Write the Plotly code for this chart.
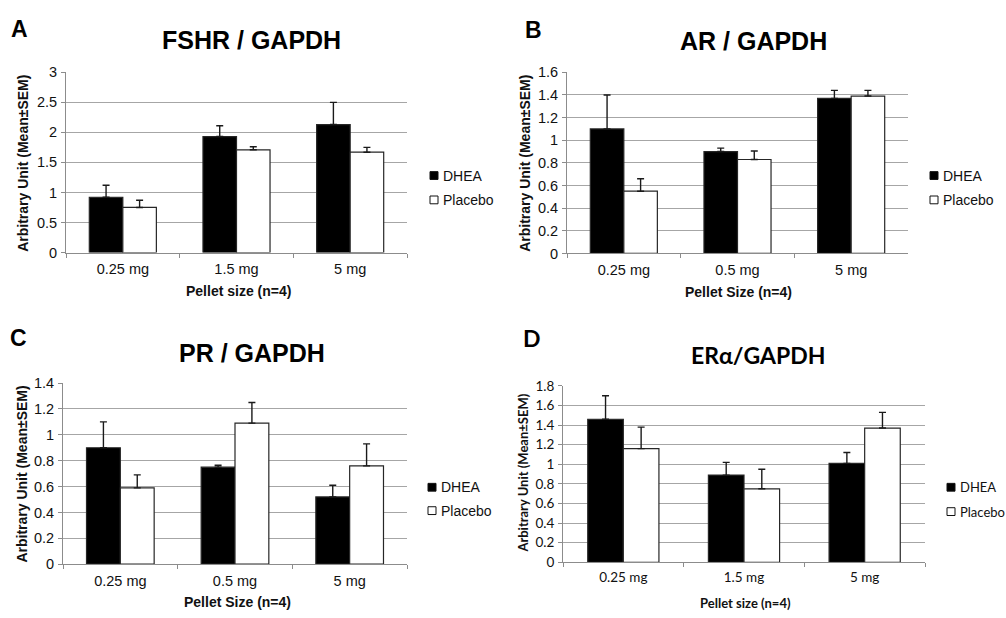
import plotly.graph_objects as go

W, H = 1006, 618

# ---------------- data ----------------
cats_A = ["0.25 mg", "1.5 mg", "5 mg"]
fshr_dhea = [0.92, 1.93, 2.13]
fshr_dhea_sem = [0.20, 0.18, 0.37]
fshr_placebo = [0.75, 1.71, 1.67]
fshr_placebo_sem = [0.12, 0.05, 0.08]

cats_B = ["0.25 mg", "0.5 mg", "5 mg"]
ar_dhea = [1.10, 0.90, 1.37]
ar_dhea_sem = [0.30, 0.03, 0.07]
ar_placebo = [0.55, 0.83, 1.39]
ar_placebo_sem = [0.11, 0.075, 0.05]

cats_C = ["0.25 mg", "0.5 mg", "5 mg"]
pr_dhea = [0.90, 0.75, 0.52]
pr_dhea_sem = [0.20, 0.015, 0.09]
pr_placebo = [0.59, 1.09, 0.76]
pr_placebo_sem = [0.10, 0.16, 0.17]

cats_D = ["0.25 mg", "1.5 mg", "5 mg"]
era_dhea = [1.46, 0.89, 1.01]
era_dhea_sem = [0.24, 0.13, 0.11]
era_placebo = [1.16, 0.75, 1.37]
era_placebo_sem = [0.22, 0.20, 0.16]

series_names = ["DHEA", "Placebo"]
series_fill = ["#000000", "#ffffff"]
titles = ["FSHR / GAPDH", "AR / GAPDH", "PR / GAPDH", "ERα/GAPDH"]
letters = ["A", "B", "C", "D"]
xtitles = ["Pellet size (n=4)", "Pellet Size (n=4)", "Pellet Size (n=4)", "Pellet size (n=4)"]
ytitle = "Arbitrary Unit (Mean±SEM)"
y_max = [3, 1.6, 1.4, 1.8]
y_dtick = [0.5, 0.2, 0.2, 0.2]

# ---------------- layout geometry (pixels) ----------------
ARIAL = "Liberation Sans, Arial, sans-serif"
CALIBRI = "Lato, Open Sans, sans-serif"

panels = [
    dict(cats=cats_A, d=fshr_dhea, de=fshr_dhea_sem, p=fshr_placebo, pe=fshr_placebo_sem,
         x0=66, x1=407, y0=66, y1=251, font=ARIAL,
         title_xy=(252, 33), letter_xy=(19, 22), ytitle_xy=(23, 160), xtitle_xy=(238, 291),
         leg_sq=430, leg_y=(172, 197), title_size=25, tick_x=14.5, tick_y=14.5,
         ytitle_size=14, xtitle_size=14, leg_size=14),
    dict(cats=cats_B, d=ar_dhea, de=ar_dhea_sem, p=ar_placebo, pe=ar_placebo_sem,
         x0=567, x1=908, y0=66, y1=252, font=ARIAL,
         title_xy=(753, 34), letter_xy=(533, 23), ytitle_xy=(525, 160), xtitle_xy=(738, 292),
         leg_sq=930, leg_y=(172, 197), title_size=25, tick_x=14.5, tick_y=14.5,
         ytitle_size=14, xtitle_size=14, leg_size=14),
    dict(cats=cats_C, d=pr_dhea, de=pr_dhea_sem, p=pr_placebo, pe=pr_placebo_sem,
         x0=63, x1=407, y0=385, y1=571, font=ARIAL,
         title_xy=(252, 354), letter_xy=(18, 339), ytitle_xy=(22, 479), xtitle_xy=(237, 610),
         leg_sq=428, leg_y=(492, 516), title_size=25, tick_x=14.5, tick_y=14.5,
         ytitle_size=14, xtitle_size=14, leg_size=14),
    dict(cats=cats_D, d=era_dhea, de=era_dhea_sem, p=era_placebo, pe=era_placebo_sem,
         x0=563, x1=925, y0=388, y1=569, font=CALIBRI,
         title_xy=(758, 356), letter_xy=(532, 339), ytitle_xy=(523, 478), xtitle_xy=(745, 611),
         leg_sq=947, leg_y=(492, 517), title_size=23, tick_x=13.5, tick_y=13.5,
         ytitle_size=13, xtitle_size=13, leg_size=13),
]


def px(x):
    return x / W


def py(y):
    return 1 - y / H


fig = go.Figure()
annotations = []
shapes = []
GRID = "#a6a6a6"
AXC = "#8c8c8c"
OUTLINE = "#262626"

for i, pn in enumerate(panels):
    k = i + 1
    xa = "x" if k == 1 else f"x{k}"
    ya = "y" if k == 1 else f"y{k}"
    fnt = pn["font"]
    for name, vals, errs, fill in [
        (series_names[0], pn["d"], pn["de"], series_fill[0]),
        (series_names[1], pn["p"], pn["pe"], series_fill[1]),
    ]:
        fig.add_trace(go.Bar(
            x=pn["cats"], y=vals, name=name, xaxis=xa, yaxis=ya, showlegend=False,
            marker=dict(color=fill, line=dict(color=OUTLINE, width=1.2)),
            error_y=dict(type="data", symmetric=False, array=errs,
                         arrayminus=[0] * len(errs), color="#1a1a1a",
                         thickness=1.4, width=3.5),
        ))
    axis_x = dict(
        domain=[px(pn["x0"]), px(pn["x1"])], anchor=ya,
        showline=True, linecolor=AXC, linewidth=1,
        ticks="outside", tickson="boundaries", ticklen=4, tickcolor=AXC,
        showgrid=False, tickfont=dict(family=fnt, size=pn["tick_x"], color="#111"),
        ticklabelstandoff=3,
    )
    axis_y = dict(
        domain=[py(pn["y1"]), py(pn["y0"])], anchor=xa,
        range=[0, y_max[i]], dtick=y_dtick[i], tick0=0,
        showline=True, linecolor=AXC, linewidth=1,
        ticks="outside", ticklen=4, tickcolor=AXC,
        showgrid=True, gridcolor=GRID, gridwidth=1, zeroline=False,
        tickfont=dict(family=fnt, size=pn["tick_y"], color="#111"),
        ticklabelstandoff=1,
    )
    fig.update_layout(**{("xaxis" if k == 1 else f"xaxis{k}"): axis_x,
                         ("yaxis" if k == 1 else f"yaxis{k}"): axis_y})

    # legend keys (square + label)
    sq = pn["leg_sq"]
    for j, name in enumerate(series_names):
        cy = pn["leg_y"][j]
        shapes.append(dict(type="rect", xref="paper", yref="paper",
                           x0=px(sq), x1=px(sq + 8), y0=py(cy + 4), y1=py(cy - 4),
                           fillcolor=series_fill[j], line=dict(color="#111", width=1)))
        annotations.append(dict(text=name, x=px(sq + 11), y=py(cy), xref="paper", yref="paper",
                                showarrow=False, xanchor="left", yanchor="middle",
                                font=dict(family=fnt, size=pn["leg_size"], color="#111")))

    # panel title, letter, axis titles
    tx, ty = pn["title_xy"]
    annotations.append(dict(text=f"<b>{titles[i]}</b>", x=px(tx), y=py(ty), xref="paper", yref="paper",
                            showarrow=False, xanchor="center", yanchor="middle",
                            font=dict(family=fnt, size=pn["title_size"], color="#000")))
    lx, ly = pn["letter_xy"]
    annotations.append(dict(text=f"<b>{letters[i]}</b>", x=px(lx), y=py(ly), xref="paper", yref="paper",
                            showarrow=False, xanchor="center", yanchor="middle",
                            font=dict(family=fnt, size=23, color="#000")))
    yx, yy = pn["ytitle_xy"]
    annotations.append(dict(text=f"<b>{ytitle}</b>", x=px(yx), y=py(yy), xref="paper", yref="paper",
                            showarrow=False, xanchor="center", yanchor="middle", textangle=-90,
                            font=dict(family=fnt, size=pn["ytitle_size"], color="#111")))
    xx, xy = pn["xtitle_xy"]
    annotations.append(dict(text=f"<b>{xtitles[i]}</b>", x=px(xx), y=py(xy), xref="paper", yref="paper",
                            showarrow=False, xanchor="center", yanchor="middle",
                            font=dict(family=fnt, size=pn["xtitle_size"], color="#111")))

fig.update_layout(
    width=W, height=H, margin=dict(l=0, r=0, t=0, b=0),
    paper_bgcolor="white", plot_bgcolor="white",
    barmode="group", bargap=0.41, bargroupgap=0,
    annotations=annotations, shapes=shapes, showlegend=False,
)

fig.write_html(
    "out.html",
    config={"displayModeBar": False},
    post_script="document.body.style.margin='0px';document.body.style.overflow='hidden';",
)
